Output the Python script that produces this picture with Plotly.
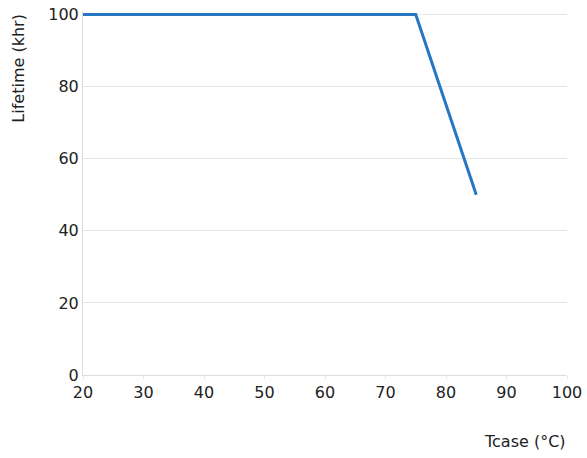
import plotly.graph_objects as go

tcase = [20, 75, 85]
lifetime = [100, 100, 50]
x_ticks = [20, 30, 40, 50, 60, 70, 80, 90, 100]
y_ticks = [0, 20, 40, 60, 80, 100]

W, H = 587, 458
L, R, T, B = 83, 20, 11.4, 83

fig = go.Figure()
fig.add_trace(go.Scatter(x=tcase, y=lifetime, mode="lines",
                         line=dict(color="#2577c2", width=3), showlegend=False))

pw = W - L - R
ph = H - T - B

fig.update_layout(
    width=W, height=H,
    margin=dict(l=L, r=R, t=T, b=B, autoexpand=False),
    plot_bgcolor="white", paper_bgcolor="white",
    font=dict(family="DejaVu Sans", size=16, color="#222222"),
    xaxis=dict(range=[20, 100], tickvals=x_ticks, showgrid=False,
               showline=True, linecolor="#dddddd", linewidth=1,
               ticks="outside", ticklen=3, tickcolor="#e6e6e6",
               zeroline=False, fixedrange=True),
    yaxis=dict(range=[0, 101], tickvals=y_ticks, showgrid=True,
               gridcolor="#e6e6e6", gridwidth=1,
               showline=True, linecolor="#dddddd", linewidth=1,
               ticks="", zeroline=False, fixedrange=True),
    annotations=[
        dict(text="Lifetime (khr)", xref="paper", yref="paper",
             x=(19 - L) / pw, y=(H - B - 69) / ph, xanchor="center", yanchor="middle",
             textangle=-90, showarrow=False, font=dict(size=16)),
        dict(text="Tcase (°C)", xref="paper", yref="paper",
             x=(568 - L) / pw, y=(H - B - 441) / ph, xanchor="right", yanchor="middle",
             showarrow=False, font=dict(size=16)),
    ],
)
fig.write_html("out.html", config={"displayModeBar": False},
               post_script="document.body.style.margin='0';")
